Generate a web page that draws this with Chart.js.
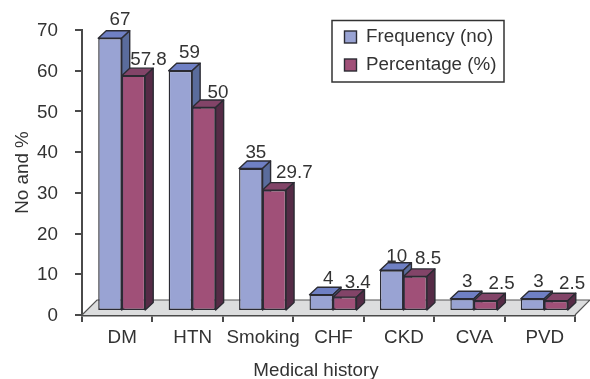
<!DOCTYPE html>
<html><head><meta charset="utf-8">
<style>html,body{margin:0;padding:0;background:#fff}#w{position:relative;width:590px;height:379px}</style>
<script src="https://cdn.jsdelivr.net/npm/chart.js@4"></script>
</head><body><div id="w"><canvas id="c" width="590" height="379"></canvas></div>
<script>
const categories = ['DM','HTN','Smoking','CHF','CKD','CVA','PVD'];
const frequency = [67,59,35,4,10,3,3];
const percentage = [57.8,50,29.7,3.4,8.5,2.5,2.5];
const frequencyLabel = 'Frequency (no)';
const percentageLabel = 'Percentage (%)';
const xTitle = 'Medical history';
const yTicks = [0,10,20,30,40,50,60,70];
// hand-placed data label nudges (label centre relative to the bar's top centre)
const freqNudgeX = [10,9,5,7,5,5,6];
const freqNudgeY = [-18,-18,-16,-16,-13,-17,-17];
const pctNudgeX = [15,14,20,13,13,16,16];
const pctNudgeY = [-16,-15,-17,-14,-18,-17,-17];

const INK='#333333', AXIS='#4a4a4a', EDGE='#2b2b33';
const DX=8, DY=7.5, SHIFTX=4.5, SHIFTY=-4;
const FAMILY='"Liberation Sans", Arial, sans-serif';
const SIZE=18.8;
const FONT=SIZE+'px '+FAMILY;
const faces=[{top:'#6f80c4',side:'#5a6c9c'},{top:'#824468',side:'#552b46'}];

function poly(ctx,pts,fill,stroke,lw){
  ctx.beginPath();pts.forEach((p,i)=>i?ctx.lineTo(p[0],p[1]):ctx.moveTo(p[0],p[1]));ctx.closePath();
  ctx.fillStyle=fill;ctx.fill();
  if(stroke){ctx.strokeStyle=stroke;ctx.lineWidth=lw;ctx.lineJoin='round';ctx.stroke();}
}
const threeD={
  id:'threeD',
  beforeDatasetsDraw(chart){
    const ctx=chart.ctx,x=chart.scales.x,y=chart.scales.y,b=y.bottom,d=15;
    ctx.save();
    poly(ctx,[[x.left,b],[x.left+d,b-d],[x.right+d,b-d],[x.right,b]],'#dcddde',null);
    ctx.strokeStyle='#555';ctx.lineWidth=1.2;
    ctx.beginPath();ctx.moveTo(x.left,b);ctx.lineTo(x.left+d,b-d);ctx.lineTo(x.right+d,b-d);ctx.lineTo(x.right,b);ctx.stroke();
    ctx.translate(SHIFTX,SHIFTY);
    chart.data.datasets.forEach((ds,di)=>{
      chart.getDatasetMeta(di).data.forEach(bar=>{
        const p=bar.getProps(['x','y','base','width'],true),l=p.x-p.width/2,r=p.x+p.width/2;
        poly(ctx,[[l,p.y],[l+DX,p.y-DY],[r+DX,p.y-DY],[r,p.y]],faces[di].top,EDGE,1.4);
        poly(ctx,[[r,p.y],[r+DX,p.y-DY],[r+DX,p.base-DY],[r,p.base]],faces[di].side,EDGE,1.4);
      });
    });
  },
  afterDatasetsDraw(chart){
    const ctx=chart.ctx;
    ctx.font=FONT;ctx.fillStyle=INK;ctx.textAlign='center';ctx.textBaseline='middle';
    const nx=[freqNudgeX,pctNudgeX],ny=[freqNudgeY,pctNudgeY];
    chart.data.datasets.forEach((ds,di)=>{
      chart.getDatasetMeta(di).data.forEach((bar,i)=>{
        const p=bar.getProps(['x','y'],true);
        ctx.fillText(String(ds.data[i]),p.x+nx[di][i],p.y+ny[di][i]);
      });
    });
    ctx.restore();
    ctx.save();
    ctx.fillStyle='#fff';ctx.strokeStyle='#333';ctx.lineWidth=1.5;
    ctx.fillRect(332,20.5,172,61.5);ctx.strokeRect(332,20.5,172,61.5);
    chart.data.datasets.forEach((ds,di)=>{
      const cy=37+di*28;
      ctx.fillStyle=ds.backgroundColor;ctx.strokeStyle=EDGE;ctx.lineWidth=1.4;
      ctx.fillRect(344.5,cy-6,12,12);ctx.strokeRect(344.5,cy-6,12,12);
      ctx.fillStyle=INK;ctx.font=FONT;ctx.textAlign='left';ctx.textBaseline='middle';
      ctx.fillText(ds.label,366,cy);
    });
    ctx.font=FONT;ctx.fillStyle=INK;ctx.textAlign='center';ctx.textBaseline='middle';
    ctx.fillText(xTitle,316,371);
    ctx.restore();
  }
};
new Chart(document.getElementById('c'),{
  type:'bar',
  data:{labels:categories,datasets:[
    {label:frequencyLabel,data:frequency,backgroundColor:'#99a3d3',borderColor:EDGE,borderWidth:1.4,borderSkipped:false,categoryPercentage:0.667,barPercentage:1},
    {label:percentageLabel,data:percentage,backgroundColor:'#a05078',borderColor:EDGE,borderWidth:1.4,borderSkipped:false,categoryPercentage:0.667,barPercentage:1}
  ]},
  plugins:[threeD],
  options:{
    responsive:false,animation:false,
    layout:{padding:{top:30,right:15,left:0,bottom:0}},
    plugins:{legend:{display:false},tooltip:{enabled:false},title:{display:false}},
    scales:{
      x:{
        afterFit(s){s.height=64;},
        grid:{drawOnChartArea:false,drawTicks:true,tickLength:7,color:AXIS,lineWidth:2},
        border:{color:AXIS,width:2.5},
        ticks:{color:INK,font:{family:FAMILY,size:SIZE},padding:5,maxRotation:0,autoSkip:false,labelOffset:5},
        title:{display:false}
      },
      y:{
        min:0,max:70,
        afterFit(s){s.width=82;},
        afterBuildTicks(s){s.ticks=yTicks.map(v=>({value:v}));},
        grid:{drawOnChartArea:false,drawTicks:true,tickLength:7,color:AXIS,lineWidth:2},
        border:{color:AXIS,width:2},
        ticks:{color:INK,font:{family:FAMILY,size:SIZE},padding:17,labelOffset:1},
        title:{display:true,text:'No and %',color:INK,font:{family:FAMILY,size:SIZE},padding:{top:12,bottom:0}}
      }
    }
  }
});
</script></body></html>
